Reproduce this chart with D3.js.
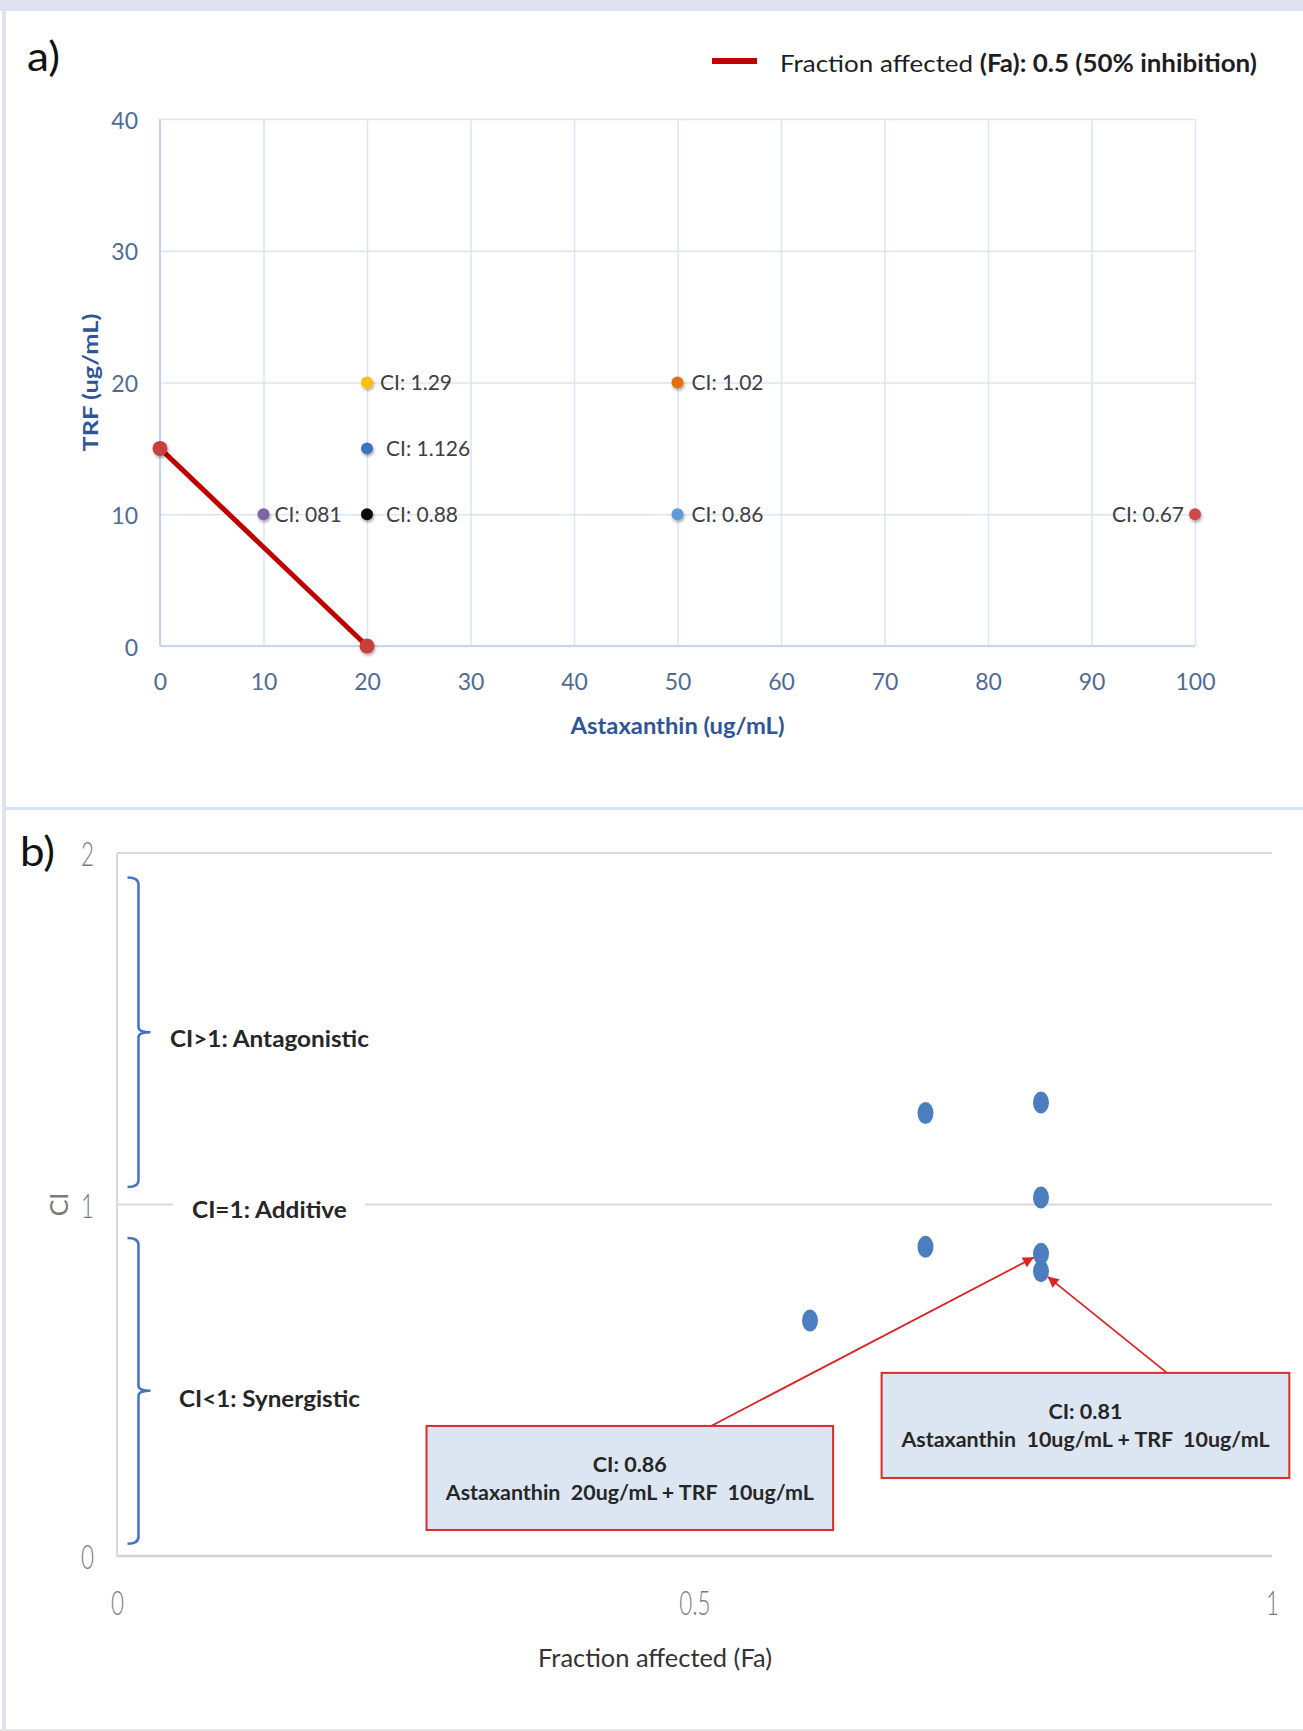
<!DOCTYPE html>
<html>
<head>
<meta charset="utf-8">
<script src="https://cdn.jsdelivr.net/npm/d3@7"></script>
<style>
  body { margin: 0; background: #fff; }
  svg { display: block; }
  text { font-family: Lato, "Open Sans", "DejaVu Sans", sans-serif; }
</style>
</head>
<body>
<script>
// ---------------- DATA ----------------
// Panel a: isobologram
const astaxanthin = [10, 20, 20, 20, 50, 50, 100];
const trf = [10, 10, 15, 20, 20, 10, 10];
const ciLabels = ["CI: 081", "CI: 0.88", "CI: 1.126", "CI: 1.29", "CI: 1.02", "CI: 0.86", "CI: 0.67"];
const isoboleAsta = [0, 20];
const isoboleTrf = [15, 0];
const xTicksA = [0, 10, 20, 30, 40, 50, 60, 70, 80, 90, 100];
const yTicksA = [0, 10, 20, 30, 40];
const legendText = ["Fraction affected ", "(Fa): 0.5 (50% inhibition)"];

// Panel b: CI vs Fa
const fractionAffected = [0.6, 0.7, 0.7, 0.8, 0.8, 0.8, 0.8];
const ciValues = [0.67, 0.88, 1.26, 0.81, 0.86, 1.02, 1.29];
const xTicksB = [0, 0.5, 1];
const yTicksB = [0, 1, 2];
const regionLabels = ["CI>1: Antagonistic", "CI=1: Additive", "CI<1: Synergistic"];
const annoFa = [0.8, 0.8];
const annoCi = [0.86, 0.81];
const annoLines = [
  ["CI: 0.86", "Astaxanthin  20ug/mL + TRF  10ug/mL"],
  ["CI: 0.81", "Astaxanthin  10ug/mL + TRF  10ug/mL"]
];

// ---------------- STYLE / LAYOUT ----------------
const pointColors = ["#8064a2", "#111111", "#3d72c2", "#ffc000", "#e4700f", "#5b9bd5", "#d04a48"];
const labelDx = [11, 19, 19, 13, 14, 14, -11];
const tickBlue = "#4f6b93";
const titleBlue = "#2f5597";
const W = 1303, H = 1731;

const svg = d3.select("body").append("svg")
  .attr("width", W).attr("height", H).attr("viewBox", `0 0 ${W} ${H}`);
const defs = svg.append("defs");
const flt = defs.append("filter").attr("id", "shadow")
  .attr("x", "-60%").attr("y", "-60%").attr("width", "220%").attr("height", "220%");
flt.append("feDropShadow").attr("dx", 1).attr("dy", 2).attr("stdDeviation", 1.4)
  .attr("flood-color", "#000").attr("flood-opacity", 0.35);
defs.append("marker").attr("id", "arrowHead")
  .attr("viewBox", "0 0 10 10").attr("refX", 9.5).attr("refY", 5)
  .attr("markerUnits", "userSpaceOnUse").attr("markerWidth", 14).attr("markerHeight", 11)
  .attr("orient", "auto")
  .append("path").attr("d", "M0,0 L10,5 L0,10 Z").attr("fill", "#dc2424");

// helpers: horizontal scaling of text about its anchor point
function anchorX(node, bb) {
  const anchor = getComputedStyle(node).textAnchor || "start";
  return anchor === "middle" ? bb.x + bb.width / 2 : anchor === "end" ? bb.x + bb.width : bb.x;
}
function fitWidth(sel, target) {
  sel.each(function () {
    const bb = this.getBBox();
    if (!bb.width) return;
    const k = target / bb.width, ax = anchorX(this, bb);
    d3.select(this).attr("transform", `translate(${ax},0) scale(${k},1) translate(${-ax},0)`);
  });
}
function squeeze(sel, k) {
  sel.each(function () {
    const bb = this.getBBox(), ax = anchorX(this, bb);
    d3.select(this).attr("transform", `translate(${ax},0) scale(${k},1) translate(${-ax},0)`);
  });
}

// ---------------- FRAME ----------------
svg.append("rect").attr("x", 0).attr("y", 0).attr("width", W).attr("height", 11).attr("fill", "#dee3ef");
svg.append("rect").attr("x", 2).attr("y", 0).attr("width", 4).attr("height", H).attr("fill", "#dfe4f0");
svg.append("rect").attr("x", 6).attr("y", 807).attr("width", W - 6).attr("height", 3).attr("fill", "#d6e2f5");
svg.append("rect").attr("x", 0).attr("y", 1729).attr("width", W).attr("height", 2).attr("fill", "#e6e6e6");

// ---------------- PANEL A ----------------
const xA = d3.scaleLinear().domain([0, 100]).range([160, 1195]);
const yA = d3.scaleLinear().domain([0, 40]).range([646, 119]);

const lblA = svg.append("text").attr("x", 27).attr("y", 55).attr("dominant-baseline", "central")
  .attr("font-size", 40).attr("fill", "#111").text("a)");
fitWidth(lblA, 33);

const gxA = svg.append("g").attr("transform", `translate(0,${yA(0)})`)
  .call(d3.axisBottom(xA).tickValues(xTicksA).tickSize(-(yA(0) - yA(40))).tickPadding(0).tickFormat(d => d));
gxA.attr("font-family", null);
gxA.select(".domain").remove();
gxA.selectAll("line").attr("stroke", "#dbe5f5").attr("stroke-width", 1.5);
gxA.selectAll("text").attr("y", 35).attr("dy", null).attr("dominant-baseline", "central")
  .attr("font-size", 23).attr("fill", tickBlue);

const gyA = svg.append("g").attr("transform", `translate(${xA(0)},0)`)
  .call(d3.axisLeft(yA).tickValues(yTicksA).tickSize(-(xA(100) - xA(0))).tickPadding(22).tickFormat(d => d));
gyA.attr("font-family", null);
gyA.select(".domain").remove();
gyA.selectAll("line").attr("stroke", "#dbe5f5").attr("stroke-width", 1.5);
gyA.selectAll("text").attr("dy", null).attr("dominant-baseline", "central")
  .attr("font-size", 23).attr("fill", tickBlue);

// axis lines
svg.append("line").attr("x1", xA(0)).attr("x2", xA(0)).attr("y1", yA(40)).attr("y2", yA(0))
  .attr("stroke", "#c3d4ee").attr("stroke-width", 2);
svg.append("line").attr("x1", xA(0)).attr("x2", xA(100)).attr("y1", yA(0)).attr("y2", yA(0))
  .attr("stroke", "#c8d7ef").attr("stroke-width", 2);

// axis titles
svg.append("text").attr("transform", `translate(90,${yA(20)}) rotate(-90)`)
  .attr("text-anchor", "middle").attr("dominant-baseline", "central")
  .attr("font-size", 20).attr("font-weight", 700).attr("fill", titleBlue)
  .attr("textLength", 138).attr("lengthAdjust", "spacingAndGlyphs")
  .text("TRF (ug/mL)");
const xtA = svg.append("text").attr("x", xA(50)).attr("y", 725)
  .attr("text-anchor", "middle").attr("dominant-baseline", "central")
  .attr("font-size", 23).attr("font-weight", 700).attr("fill", titleBlue)
  .text("Astaxanthin (ug/mL)");
fitWidth(xtA, 215);

// isobole line
const isoData = isoboleAsta.map((a, i) => ({ a, t: isoboleTrf[i] }));
svg.append("path").datum(isoData)
  .attr("d", d3.line().x(d => xA(d.a)).y(d => yA(d.t)))
  .attr("fill", "none").attr("stroke", "#c00000").attr("stroke-width", 5);
svg.selectAll(".isoPt").data(isoData).join("circle").attr("class", "isoPt")
  .attr("cx", d => xA(d.a)).attr("cy", d => yA(d.t)).attr("r", 7.5)
  .attr("fill", "#c8403e").attr("filter", "url(#shadow)");

// combination points
const ptsA = astaxanthin.map((a, i) => ({ a, t: trf[i], label: ciLabels[i], c: pointColors[i], dx: labelDx[i] }));
svg.selectAll(".ptA").data(ptsA).join("circle").attr("class", "ptA")
  .attr("cx", d => xA(d.a)).attr("cy", d => yA(d.t)).attr("r", 6)
  .attr("fill", d => d.c).attr("filter", "url(#shadow)");
svg.selectAll(".lblA").data(ptsA).join("text").attr("class", "lblA")
  .attr("x", d => xA(d.a) + d.dx).attr("y", d => yA(d.t) - 1)
  .attr("text-anchor", d => d.dx < 0 ? "end" : "start")
  .attr("dominant-baseline", "central")
  .attr("font-size", 21).attr("fill", "#404040")
  .text(d => d.label);

// legend
svg.append("line").attr("x1", 712).attr("x2", 757).attr("y1", 61).attr("y2", 61)
  .attr("stroke", "#c00000").attr("stroke-width", 6);
const leg = svg.append("text").attr("x", 780).attr("y", 62).attr("dominant-baseline", "central")
  .attr("font-size", 24).attr("fill", "#1e1e1e");
leg.append("tspan").text(legendText[0]);
leg.append("tspan").attr("font-weight", 700).text(legendText[1]);
fitWidth(leg, 477);

// ---------------- PANEL B ----------------
const xB = d3.scaleLinear().domain([0, 1]).range([117, 1272]);
const yB = d3.scaleLinear().domain([0, 2]).range([1556, 853]);

const lblB = svg.append("text").attr("x", 20).attr("y", 851).attr("dominant-baseline", "central")
  .attr("font-size", 40).attr("fill", "#111").text("b)");
fitWidth(lblB, 35);

const gridB = [1, 2];
svg.selectAll(".gridB").data(gridB).join("line").attr("class", "gridB")
  .attr("x1", xB(0)).attr("x2", xB(1)).attr("y1", d => yB(d)).attr("y2", d => yB(d))
  .attr("stroke", "#d9d9d9").attr("stroke-width", 2);
svg.append("line").attr("x1", xB(0)).attr("x2", xB(0)).attr("y1", yB(2)).attr("y2", yB(0))
  .attr("stroke", "#d9d9d9").attr("stroke-width", 2);
svg.append("line").attr("x1", xB(0)).attr("x2", xB(1)).attr("y1", yB(0)).attr("y2", yB(0))
  .attr("stroke", "#d4d4d4").attr("stroke-width", 2.5);

const gxB = svg.append("g").attr("transform", `translate(0,${yB(0)})`)
  .call(d3.axisBottom(xB).tickValues(xTicksB).tickSize(0).tickPadding(0).tickFormat(d => d));
gxB.attr("font-family", null);
gxB.select(".domain").remove();
gxB.selectAll("line").remove();
gxB.selectAll("text").attr("y", 46).attr("dy", null).attr("dominant-baseline", "central")
  .attr("text-anchor", "middle")
  .attr("font-size", 33).attr("font-weight", 300).attr("fill", "#7a7a7a");
squeeze(gxB.selectAll("text"), 0.68);

const gyB = svg.append("g").attr("transform", `translate(${xB(0)},0)`)
  .call(d3.axisLeft(yB).tickValues(yTicksB).tickSize(0).tickPadding(23).tickFormat(d => d));
gyB.attr("font-family", null);
gyB.select(".domain").remove();
gyB.selectAll("line").remove();
gyB.selectAll("text").attr("dy", null).attr("dominant-baseline", "central")
  .attr("text-anchor", "end")
  .attr("font-size", 33).attr("font-weight", 300).attr("fill", "#7a7a7a");
squeeze(gyB.selectAll("text"), 0.68);

// axis titles
svg.append("text").attr("transform", `translate(58,${yB(1)}) rotate(-90)`)
  .attr("text-anchor", "middle").attr("dominant-baseline", "central")
  .attr("font-size", 25).attr("fill", "#7a7a7a").text("CI");
const xtB = svg.append("text").attr("x", 655).attr("y", 1657)
  .attr("text-anchor", "middle").attr("dominant-baseline", "central")
  .attr("font-size", 25).attr("fill", "#333").text("Fraction affected (Fa)");
fitWidth(xtB, 234);

// braces
function bracePath(x, y0, y1) {
  const m = (y0 + y1) / 2, h = 11, r = 7;
  return `M${x - h},${y0} Q${x},${y0} ${x},${y0 + r} L${x},${m - 5} Q${x},${m} ${x + 12},${m} ` +
         `Q${x},${m} ${x},${m + 5} L${x},${y1 - r} Q${x},${y1} ${x - h},${y1}`;
}
const braceRanges = [[1.93, 1.05], [0.905, 0.035]];
svg.selectAll(".brace").data(braceRanges).join("path").attr("class", "brace")
  .attr("d", d => bracePath(138.5, yB(d[0]), yB(d[1])))
  .attr("fill", "none").attr("stroke", "#4472c4").attr("stroke-width", 2.5);

// region labels
const upperMid = (yB(braceRanges[0][0]) + yB(braceRanges[0][1])) / 2;
const lowerMid = (yB(braceRanges[1][0]) + yB(braceRanges[1][1])) / 2;
const l1 = svg.append("text").attr("x", 170).attr("y", upperMid + 6).attr("dominant-baseline", "central")
  .attr("font-size", 23).attr("font-weight", 700).attr("fill", "#262626").text(regionLabels[0]);
fitWidth(l1, 199);
svg.append("rect").attr("x", 173).attr("y", yB(1) - 4).attr("width", 192).attr("height", 8).attr("fill", "#fff");
const l2 = svg.append("text").attr("x", 192).attr("y", yB(1) + 5).attr("dominant-baseline", "central")
  .attr("font-size", 23).attr("font-weight", 700).attr("fill", "#262626").text(regionLabels[1]);
fitWidth(l2, 155);
const l3 = svg.append("text").attr("x", 179).attr("y", lowerMid + 7).attr("dominant-baseline", "central")
  .attr("font-size", 23).attr("font-weight", 700).attr("fill", "#262626").text(regionLabels[2]);
fitWidth(l3, 181);

// points
const ptsB = fractionAffected.map((f, i) => ({ f, c: ciValues[i] }));
svg.selectAll(".ptB").data(ptsB).join("ellipse").attr("class", "ptB")
  .attr("cx", d => xB(d.f)).attr("cy", d => yB(d.c)).attr("rx", 8).attr("ry", 11)
  .attr("fill", "#4a7ebf");

// annotations (box extents expressed in axis units)
const annoBoxes = [
  { f0: 0.268, f1: 0.620, c0: 0.074, c1: 0.370 },
  { f0: 0.662, f1: 1.015, c0: 0.222, c1: 0.521 }
];
annoBoxes.forEach((b, i) => {
  const x0 = xB(b.f0), x1 = xB(b.f1), yTop = yB(b.c1), yBot = yB(b.c0);
  const tailX = x0 + 0.7 * (x1 - x0), tailY = yTop;
  const cx = xB(annoFa[i]), cy = yB(annoCi[i]);
  const dx = tailX - cx, dy = tailY - cy, len = Math.hypot(dx, dy);
  const ux = dx / len, uy = dy / len;
  const t = 1 / Math.sqrt((ux / 8) ** 2 + (uy / 11) ** 2);
  svg.append("line").attr("x1", tailX).attr("y1", tailY)
    .attr("x2", cx + ux * t).attr("y2", cy + uy * t)
    .attr("stroke", "#dc2424").attr("stroke-width", 1.8).attr("marker-end", "url(#arrowHead)");
  svg.append("rect").attr("x", x0).attr("y", yTop).attr("width", x1 - x0).attr("height", yBot - yTop)
    .attr("fill", "#dce6f2").attr("stroke", "#dd2a2a").attr("stroke-width", 2);
  const mx = (x0 + x1) / 2, my = (yTop + yBot) / 2;
  const t1 = svg.append("text").attr("x", mx).attr("y", my - 14.5).attr("text-anchor", "middle")
    .attr("dominant-baseline", "central").attr("font-size", 20).attr("font-weight", 700)
    .attr("fill", "#262626").text(annoLines[i][0]);
  fitWidth(t1, 74);
  const t2 = svg.append("text").attr("x", mx).attr("y", my + 14).attr("text-anchor", "middle")
    .attr("dominant-baseline", "central").attr("font-size", 20).attr("font-weight", 700)
    .attr("fill", "#262626").style("white-space", "pre").text(annoLines[i][1]);
  fitWidth(t2, 370);
});
</script>
</body>
</html>
